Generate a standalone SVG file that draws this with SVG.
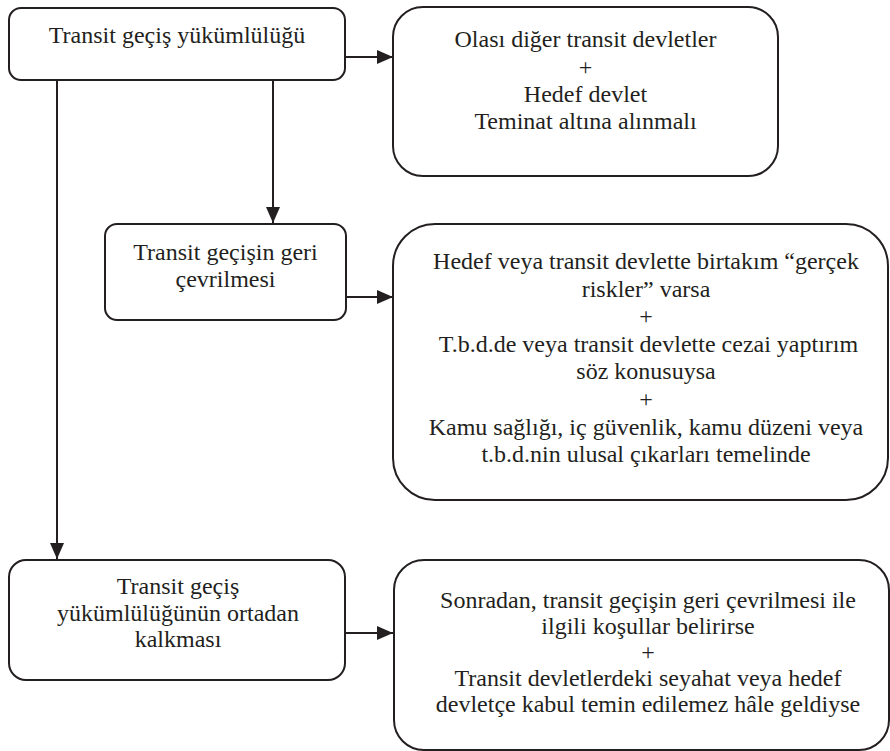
<svg xmlns="http://www.w3.org/2000/svg" width="890" height="751" viewBox="0 0 890 751">
  <style>
    .box { fill: #ffffff; stroke: #231f20; stroke-width: 2; }
    .edge { fill: none; stroke: #231f20; stroke-width: 2; }
    text { font-family: "Liberation Serif", "Times New Roman", serif; font-size: 24px; fill: #231f20; text-anchor: middle; }
  </style>
  <defs>
    <marker id="arrow" markerUnits="userSpaceOnUse" markerWidth="16" markerHeight="14" refX="16" refY="7" orient="auto">
      <path d="M0,0 L16,7 L0,14 Z" fill="#231f20"/>
    </marker>
  </defs>
  <rect width="890" height="751" fill="#ffffff"/>
  <g id="connectors">
    <line class="edge" x1="345" y1="57" x2="393" y2="57" marker-end="url(#arrow)"/>
    <line class="edge" x1="273" y1="80" x2="273" y2="223" marker-end="url(#arrow)"/>
    <line class="edge" x1="57" y1="80" x2="57" y2="559" marker-end="url(#arrow)"/>
    <line class="edge" x1="346" y1="297" x2="393" y2="297" marker-end="url(#arrow)"/>
    <line class="edge" x1="345" y1="633" x2="393" y2="633" marker-end="url(#arrow)"/>
  </g>
  <g id="n1">
    <rect class="box" x="9" y="8" width="336" height="72" rx="12" ry="12"/>
    <text x="177" y="43">Transit geçiş yükümlülüğü</text>
  </g>
  <g id="n2">
    <rect class="box" x="393" y="7" width="385" height="169" rx="30" ry="30"/>
    <text x="585.5" y="47">Olası diğer transit devletler</text>
    <text x="585.5" y="75">+</text>
    <text x="585.5" y="102">Hedef devlet</text>
    <text x="585.5" y="129">Teminat altına alınmalı</text>
  </g>
  <g id="n3">
    <rect class="box" x="105" y="224" width="241" height="96" rx="12" ry="12"/>
    <text x="225.5" y="260">Transit geçişin geri</text>
    <text x="225.5" y="287">çevrilmesi</text>
  </g>
  <g id="n4">
    <rect class="box" x="393" y="224" width="495" height="276" rx="42" ry="42"/>
    <text x="646" y="269">Hedef veya transit devlette birtakım “gerçek</text>
    <text x="646" y="296.5">riskler” varsa</text>
    <text x="646" y="324">+</text>
    <text x="648.5" y="351.5">T.b.d.de veya transit devlette cezai yaptırım</text>
    <text x="646" y="379">söz konusuysa</text>
    <text x="646" y="407">+</text>
    <text x="646" y="434.5">Kamu sağlığı, iç güvenlik, kamu düzeni veya</text>
    <text x="646" y="462">t.b.d.nin ulusal çıkarları temelinde</text>
  </g>
  <g id="n5">
    <rect class="box" x="9" y="560" width="336" height="120" rx="17" ry="17"/>
    <text x="178" y="594">Transit geçiş</text>
    <text x="178" y="620.5">yükümlülüğünün ortadan</text>
    <text x="178" y="647">kalkması</text>
  </g>
  <g id="n6">
    <rect class="box" x="394" y="560" width="495" height="190" rx="30" ry="30"/>
    <text x="648" y="607.5">Sonradan, transit geçişin geri çevrilmesi ile</text>
    <text x="648" y="634">ilgili koşullar belirirse</text>
    <text x="648" y="660">+</text>
    <text x="648" y="686">Transit devletlerdeki seyahat veya hedef</text>
    <text x="648" y="712">devletçe kabul temin edilemez hâle geldiyse</text>
  </g>
</svg>
